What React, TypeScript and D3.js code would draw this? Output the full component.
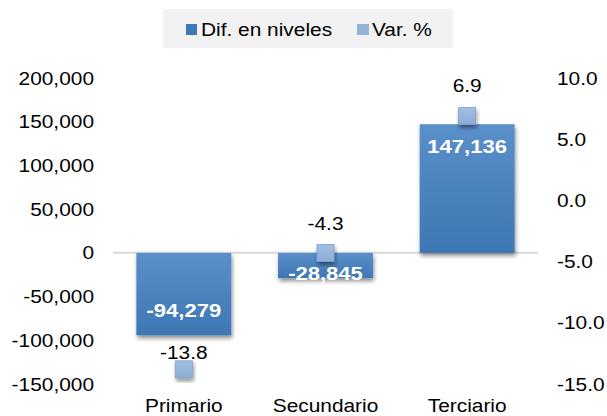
import React from 'react';
import * as d3 from 'd3';

const categories = ['Primario', 'Secundario', 'Terciario'];
const difNiveles = [-94279, -28845, 147136];
const varPct = [-13.8, -4.3, 6.9];
const leftTicks = [200000, 150000, 100000, 50000, 0, -50000, -100000, -150000];
const rightTicks = [10, 5, 0, -5, -10, -15];

const W = 607;
const H = 416;
const top = 78;
const bottom = 384;
const plotLeft = 113;
const plotRight = 538;
const SX = 1.16; // the source picture is stretched horizontally

function T({ x, y, anchor = 'start', size = 18, weight = 'normal', fill = '#000', children }: any) {
  return (
    <text transform={`translate(${x},${y}) scale(${SX},1)`} textAnchor={anchor} fontSize={size}
      fontWeight={weight} fill={fill}>{children}</text>
  );
}

export default function App() {
  const x = d3.scaleBand().domain(categories).range([plotLeft, plotRight]).paddingInner(0.33).paddingOuter(0.165);
  const yL = d3.scaleLinear().domain([200000, -150000]).range([top, bottom]);
  const yR = d3.scaleLinear().domain([10, -15]).range([top, bottom]);
  const fmt = (v: number) => d3.format(',')(v).replace('\u2212', '-');
  const fmt1 = (v: number) => d3.format('.1f')(v).replace('\u2212', '-');
  const y0 = yL(0);
  const font = 'Liberation Sans, Arial, sans-serif';

  return (
    <svg width={W} height={H} style={{ position: 'absolute', left: 0, top: 0 }} fontFamily={font}>
      <defs>
        <linearGradient id="barGrad" x1="0" y1="0" x2="0" y2="1">
          <stop offset="0%" stopColor="#5b8fca" />
          <stop offset="100%" stopColor="#3d77b4" />
        </linearGradient>
        <linearGradient id="mkGrad" x1="0" y1="0" x2="0" y2="1">
          <stop offset="0%" stopColor="#a3bfe2" />
          <stop offset="100%" stopColor="#8cacd6" />
        </linearGradient>
        <filter id="shadow" x="-20%" y="-20%" width="140%" height="150%">
          <feGaussianBlur in="SourceAlpha" stdDeviation="2" />
          <feOffset dx="1" dy="3" result="b" />
          <feComponentTransfer><feFuncA type="linear" slope="0.45" /></feComponentTransfer>
          <feMerge><feMergeNode /><feMergeNode in="SourceGraphic" /></feMerge>
        </filter>
      </defs>
      <rect width={W} height={H} fill="#fff" />

      {/* legend */}
      <rect x={163} y={9} width={290} height={39} fill="#f2f2f2" />
      <rect x={186} y={24} width={11} height={11} fill="#3f78b5" />
      <T x={201} y={35.5}>Dif. en niveles</T>
      <rect x={357} y={24} width={12} height={11} fill="#95b3d7" />
      <T x={372} y={35.5}>Var. %</T>

      {/* left axis */}
      {leftTicks.map(t => (
        <T key={'l' + t} x={94} y={yL(t) + 6.5} anchor="end">{fmt(t)}</T>
      ))}
      {/* right axis */}
      {rightTicks.map(t => (
        <T key={'r' + t} x={557} y={yR(t) + 6.5}>{fmt1(t)}</T>
      ))}

      <line x1={plotLeft} x2={plotRight} y1={y0} y2={y0} stroke="#d9d9d9" strokeWidth={2} />

      {/* bars */}
      {categories.map((c, i) => {
        const v = difNiveles[i];
        const yv = yL(v);
        return (
          <rect key={'b' + c} x={x(c)} y={Math.min(yv, y0)} width={x.bandwidth()} height={Math.abs(yv - y0)}
            fill="url(#barGrad)" filter="url(#shadow)" />
        );
      })}
      {categories.map((c, i) => {
        const v = difNiveles[i];
        const yv = yL(v);
        const ty = v >= 0 ? yv + 29 : Math.max(yv - 18, y0 + 27);
        return (
          <T key={'bl' + c} x={x(c)! + x.bandwidth() / 2} y={ty} size={19} weight="bold" anchor="middle" fill="#fff">
            {fmt(v)}
          </T>
        );
      })}

      {/* markers */}
      {categories.map((c, i) => {
        const cx = x(c)! + x.bandwidth() / 2;
        const cy = yR(varPct[i]);
        return (
          <g key={'m' + c}>
            <rect x={cx - 8.5} y={cy - 8.5} width={17} height={17} fill="url(#mkGrad)" stroke="#7f9fc9" strokeWidth={0.8}
              filter="url(#shadow)" />
            <T x={cx} y={cy + (i === 0 ? -10.5 : -23.5)} anchor="middle">{fmt1(varPct[i])}</T>
          </g>
        );
      })}

      {/* category labels */}
      {categories.map(c => (
        <T key={'c' + c} x={x(c)! + x.bandwidth() / 2} y={412} anchor="middle">{c}</T>
      ))}
    </svg>
  );
}
